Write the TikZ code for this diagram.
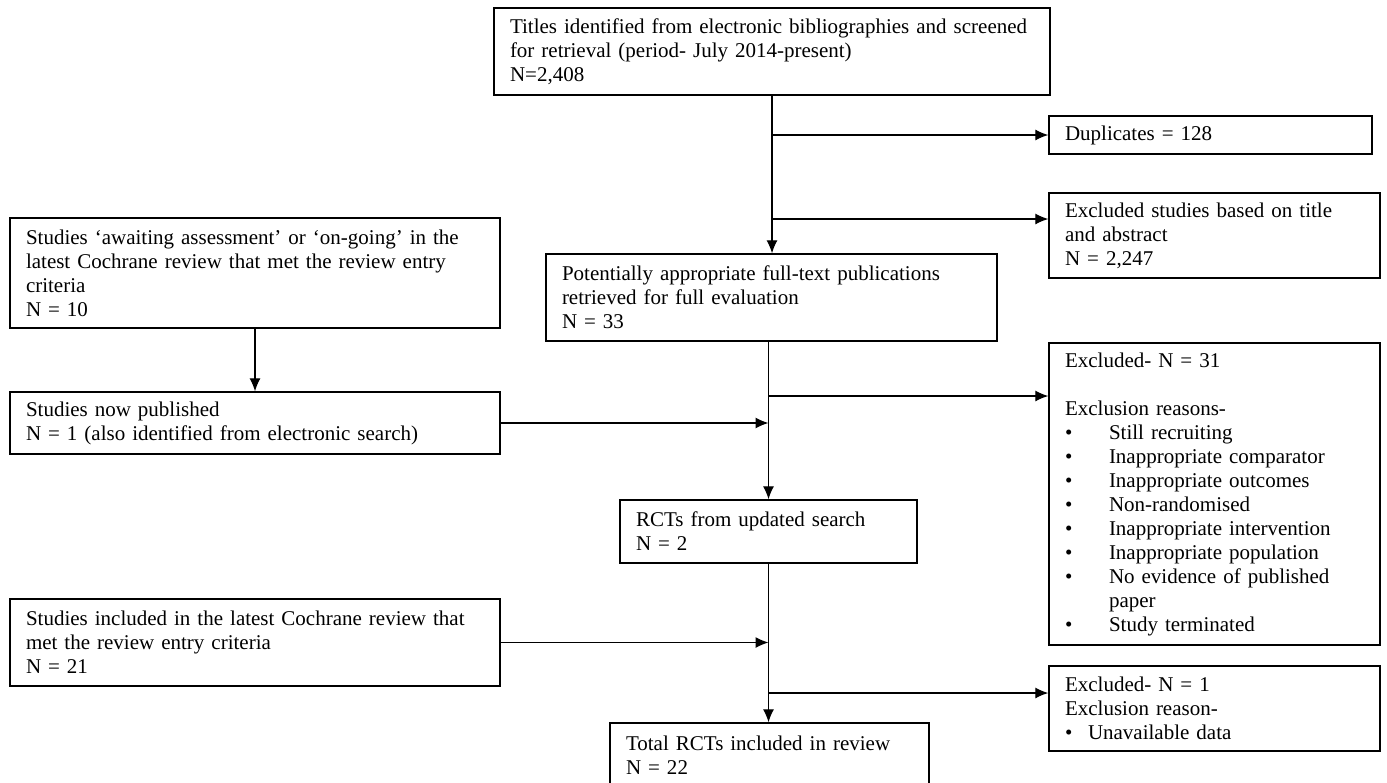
\documentclass[tikz,border=0pt]{standalone}
\usepackage{fontspec}
\setmainfont{Liberation Serif}
\usetikzlibrary{positioning,arrows.meta}
\tikzset{box/.style={draw, line width=0.7pt, align=left, inner xsep=8pt, inner ysep=0pt, font=\fontsize{10.5}{12}\selectfont},
  flow/.style={->, line width=0.6pt}}
\newcommand{\bul}[1]{\makebox[22pt][l]{\textbullet}#1}
\newcommand{\bulb}[1]{\makebox[11.5pt][l]{\textbullet}#1}
\begin{document}
\begin{tikzpicture}[>={Latex[length=6.5pt,width=5.5pt]}, x=0.5pt, y=-0.5pt]
\useasboundingbox (0,0) rectangle (1387,782);
% middle column
\node[box, text width=262pt, minimum height=43.5pt] (titles) at (772,51.5) {Titles identified from electronic bibliographies and screened\\for retrieval (period- July 2014-present)\\N=2,408};
\node[box, text width=209.5pt, minimum height=43.5pt] (potent) at (771.5,297.5) {Potentially appropriate full-text publications\\retrieved for full evaluation\\N = 33};
\node[box, text width=132.5pt, minimum height=31.5pt] (rcts) at (768.5,531.5) {RCTs from updated search\\N = 2};
\node[box, text width=143.5pt, minimum height=32pt] (total) at (769.5,755) {Total RCTs included in review\\N = 22};
% left column
\node[box, text width=229pt, minimum height=55pt] (await) at (255,273) {Studies `awaiting assessment' or `on-going' in the\\latest Cochrane review that met the review entry\\criteria\\N = 10};
\node[box, text width=229pt, minimum height=31pt] (pub) at (255,423) {Studies now published\\N = 1 (also identified from electronic search)};
\node[box, text width=229pt, minimum height=43.5pt] (incl) at (255,642.5) {Studies included in the latest Cochrane review that\\met the review entry criteria\\N = 21};
% right column
\node[box, text width=145.5pt, minimum height=19pt] (dup) at (1210.5,135) {Duplicates = 128};
\node[box, text width=149.5pt, minimum height=42.5pt] (excla) at (1214.5,235.5) {Excluded studies based on title\\and abstract\\N = 2,247};
\node[box, text width=149.5pt, minimum height=151pt] (exclb) at (1214.5,494) {Excluded- N = 31\\[12pt]Exclusion reasons-\\
  \bul{Still recruiting}\\\bul{Inappropriate comparator}\\\bul{Inappropriate outcomes}\\\bul{Non-randomised}\\
  \bul{Inappropriate intervention}\\\bul{Inappropriate population}\\\bul{No evidence of published}\\\hspace*{22pt}paper\\\bul{Study terminated}};
\node[box, text width=149.5pt, minimum height=42.5pt] (exclc) at (1214.5,708.5) {Excluded- N = 1\\Exclusion reason-\\\bulb{Unavailable data}};
% branch points
\coordinate (ja) at (titles.south |- dup.west);
\coordinate (jb) at (772,219);
\coordinate (jc) at (768,396);
\coordinate (jd) at (768,693);
% arrows
\draw[flow] (titles.south) -- (titles.south |- potent.north);
\draw[flow] (ja) -- (dup.west);
\draw[flow] (jb) -- (jb -| excla.west);
\draw[flow] (potent.south -| rcts.north) -- (rcts.north);
\draw[flow] (jc) -- (jc -| exclb.west);
\draw[flow] (await) -- (pub);
\draw[flow] (pub.east) -- (pub.east -| rcts.north);
\draw[flow] (rcts.south) -- (rcts.south |- total.north);
\draw[flow] (incl.east) -- (incl.east -| rcts.south);
\draw[flow] (jd) -- (jd -| exclc.west);
\end{tikzpicture}
\end{document}
